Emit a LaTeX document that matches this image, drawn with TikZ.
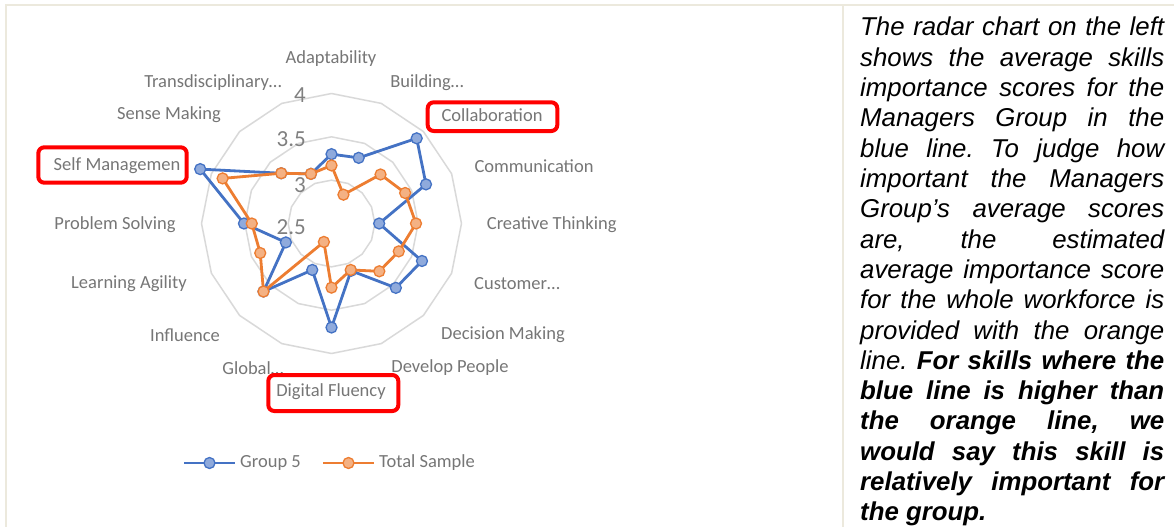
\documentclass[tikz,border=0pt]{standalone}
\usepackage{fontspec}
\setmainfont{Liberation Sans}
\newfontfamily\chartfont{Carlito}
\usetikzlibrary{calc}
\frenchspacing
\definecolor{xlblue}{RGB}{68,114,196}
\definecolor{xlbluef}{RGB}{143,170,220}
\definecolor{xlorange}{RGB}{237,125,49}
\definecolor{xlorangef}{RGB}{244,177,131}
\definecolor{gridgray}{RGB}{217,217,217}
\definecolor{labgray}{RGB}{118,118,118}
\definecolor{vallgray}{RGB}{128,128,128}
\definecolor{framecol}{RGB}{236,233,221}
\begin{document}
\begin{tikzpicture}[x=1pt,y=-1pt,
  frameline/.style={draw=framecol,line width=2pt},
  gridline/.style={draw=gridgray,line width=1.5pt,line join=round},
  catlab/.style={font=\chartfont\fontsize{18.5}{20}\selectfont,text=labgray,inner sep=0pt},
  vallab/.style={font=\chartfont\fontsize{23}{25}\selectfont,text=vallgray,inner sep=0pt,anchor=east},
  redbox/.style={draw=red,line width=4pt,rounded corners=6pt},
  blueser/.style={draw=xlblue,line width=2.8pt,line join=round},
  orangeser/.style={draw=xlorange,line width=2.8pt,line join=round},
  bluemark/.style={circle,inner sep=0pt,minimum size=11pt,draw=xlblue,line width=1.3pt,fill=xlbluef},
  orangemark/.style={circle,inner sep=0pt,minimum size=11pt,draw=xlorange,line width=1.3pt,fill=xlorangef},
  bodytext/.style={anchor=base west,inner sep=0pt,font=\fontsize{25.8}{30}\selectfont\itshape}
]
\useasboundingbox (0,0) rectangle (1174,527);
\fill[white] (0,0) rectangle (1174,527);
% table frame
\draw[frameline] (5,5.5) -- (1174,5.5);
\draw[frameline] (6,5.5) -- (6,527);
\draw[frameline] (843,5.5) -- (843,527);

% radar chart
\begin{scope}[shift={(331.5,223.5)}]
  \foreach \r in {43.333,86.667,130}{
    \draw[gridline] (-90:\r) \foreach \k in {1,...,15}{ -- ({22.5*\k-90}:\r)} -- cycle;
  }
  \foreach \v [count=\k from 0] in {3.30,3.32,3.89,3.68,3.05,3.63,3.55,3.09,3.70,3.08,3.61,3.07,3.51,4.14,3.32,3.12}{
    \coordinate (b\k) at ({22.5*\k-90}:{(\v-2.5)*86.667});
  }
  \foreach \v [count=\k from 0] in {3.17,2.86,3.30,3.42,3.475,3.34,3.28,3.08,3.24,2.73,3.61,3.39,3.42,3.86,3.32,3.12}{
    \coordinate (o\k) at ({22.5*\k-90}:{(\v-2.5)*86.667});
  }
\end{scope}
\draw[blueser] (b0) \foreach \k in {1,...,15}{ -- (b\k)} -- cycle;
\foreach \k in {0,...,15}{ \node[bluemark] (bm\k) at (b\k) {}; }
\draw[orangeser] (o0) \foreach \k in {1,...,15}{ -- (o\k)} -- cycle;
\foreach \k in {0,...,15}{ \node[orangemark] (om\k) at (o\k) {}; }

% value labels
\node[vallab] (v4) at (306,95) {4};
\node[vallab] (v35) at (306,139.5) {3.5};
\node[vallab] (v3) at (306,185) {3};
\node[vallab] (v25) at (306,227.5) {2.5};

% category labels
\node[catlab] (l0) at (331,59) {Adaptability};
\node[catlab] (l1) at (427,82.7) {Building…};
\node[catlab] (l2) at (492,115) {Collaboration};
\node[catlab] (l3) at (534,166.5) {Communication};
\node[catlab] (l4) at (551.7,225) {Creative Thinking};
\node[catlab] (l5) at (517,284) {Customer…};
\node[catlab] (l6) at (503,335) {Decision Making};
\node[catlab] (l7) at (450,368) {Develop People};
\node[catlab] (l8) at (331,392) {Digital Fluency};
\node[catlab] (l9) at (253,368) {Global…};
\node[catlab] (l10) at (185,335) {Influence};
\node[catlab] (l11) at (129,284) {Learning Agility};
\node[catlab] (l12) at (115,225) {Problem Solving};
\node[catlab] (l13) at (117,166) {Self Managemen};
\node[catlab] (l14) at (169,115) {Sense Making};
\node[catlab] (l15) at (213,82.7) {Transdisciplinary…};

% red highlight boxes
\draw[redbox] (427.7,102.3) rectangle (557.3,131);
\draw[redbox] (38.3,147.3) rectangle (186.7,182.7);
\draw[redbox] (268.3,375) rectangle (398.3,411);

% legend
\coordinate (lgb1) at (184,463);
\coordinate (lgb2) at (235,463);
\draw[blueser] (lgb1) -- (lgb2);
\node[bluemark] (lgbm) at ($(lgb1)!0.5!(lgb2)$) {};
\node[catlab,anchor=west] (lgbt) at (240,463) {Group 5};
\coordinate (lgo1) at (323,463);
\coordinate (lgo2) at (374,463);
\draw[orangeser] (lgo1) -- (lgo2);
\node[orangemark] (lgom) at ($(lgo1)!0.5!(lgo2)$) {};
\node[catlab,anchor=west] (lgot) at (379,463) {Total Sample};

% right-hand text
\def\tw{304pt}
\node[bodytext] (t1) at (860,36.0) {\makebox[\tw][s]{The radar chart on the left}};
\node[bodytext] (t2) at (860,66.3) {\makebox[\tw][s]{shows the average skills}};
\node[bodytext] (t3) at (860,96.6) {\makebox[\tw][s]{importance scores for the}};
\node[bodytext] (t4) at (860,126.9) {\makebox[\tw][s]{Managers Group in the}};
\node[bodytext] (t5) at (860,157.2) {\makebox[\tw][s]{blue line. To judge how}};
\node[bodytext] (t6) at (860,187.5) {\makebox[\tw][s]{important the Managers}};
\node[bodytext] (t7) at (860,217.8) {\makebox[\tw][s]{Group’s average scores}};
\node[bodytext] (t8) at (860,248.1) {\makebox[\tw][s]{are, the estimated}};
\node[bodytext] (t9) at (860,278.4) {\makebox[\tw][s]{average importance score}};
\node[bodytext] (t10) at (860,308.7) {\makebox[\tw][s]{for the whole workforce is}};
\node[bodytext] (t11) at (860,339.0) {\makebox[\tw][s]{provided with the orange}};
\node[bodytext] (t12) at (860,369.3) {\makebox[\tw][s]{line. \bfseries For skills where the}};
\node[bodytext] (t13) at (860,399.6) {\makebox[\tw][s]{\bfseries blue line is higher than}};
\node[bodytext] (t14) at (860,429.9) {\makebox[\tw][s]{\bfseries the orange line, we}};
\node[bodytext] (t15) at (860,460.2) {\makebox[\tw][s]{\bfseries would say this skill is}};
\node[bodytext] (t16) at (860,490.5) {\makebox[\tw][s]{\bfseries relatively important for}};
\node[bodytext] (t17) at (860,520.8) {\bfseries the group.};
\end{tikzpicture}
\end{document}
